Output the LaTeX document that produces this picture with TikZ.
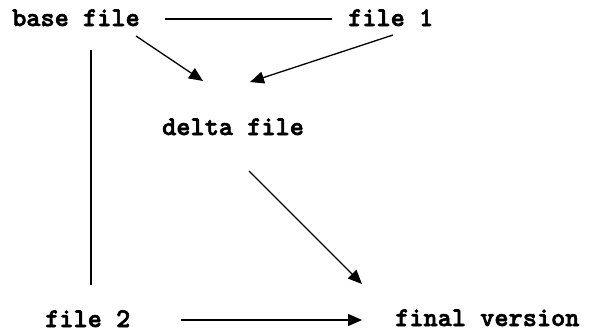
\documentclass[tikz,border=0pt]{standalone}
\usepackage{fontspec}
\newfontfamily\labelfont[FakeBold=2.2]{lmmonolt10-bold.otf}
\usetikzlibrary{arrows.meta}
\tikzset{
  lbl/.style={inner sep=0pt, anchor=base west, font=\labelfont\fontsize{27}{30}\selectfont},
  link/.style={line width=1.3pt},
  flow/.style={line width=1.3pt, -{Triangle[length=14pt, width=12pt]}}
}
\begin{document}
\begin{tikzpicture}[x=1pt, y=-1pt]
\useasboundingbox (0,0) rectangle (592,332);
% file labels
\node[lbl] (base)  at (12,26)   {base file};
\node[lbl] (f1)    at (348,26)  {file 1};
\node[lbl] (delta) at (162,135) {delta file};
\node[lbl] (f2)    at (45,327)  {file 2};
\node[lbl] (final) at (395,326) {final version};
% connector end points
\coordinate (baseR)   at (165,19);
\coordinate (f1L)     at (332,19);
\coordinate (baseOut) at (136,36);
\coordinate (f1Out)   at (393,35);
\coordinate (dIn1)    at (203,81);
\coordinate (dIn2)    at (250,82);
\coordinate (baseDn)  at (91,50);
\coordinate (f2Up)    at (91,285);
\coordinate (dOut)    at (249,171);
\coordinate (finIn1)  at (362,284);
\coordinate (f2R)     at (181,320);
\coordinate (finIn2)  at (362,320);
% connectors
\draw[link] (baseR) -- (f1L);
\draw[link] (baseDn) -- (f2Up);
\draw[flow] (baseOut) -- (dIn1);
\draw[flow] (f1Out) -- (dIn2);
\draw[flow] (dOut) -- (finIn1);
\draw[flow] (f2R) -- (finIn2);
\end{tikzpicture}
\end{document}
